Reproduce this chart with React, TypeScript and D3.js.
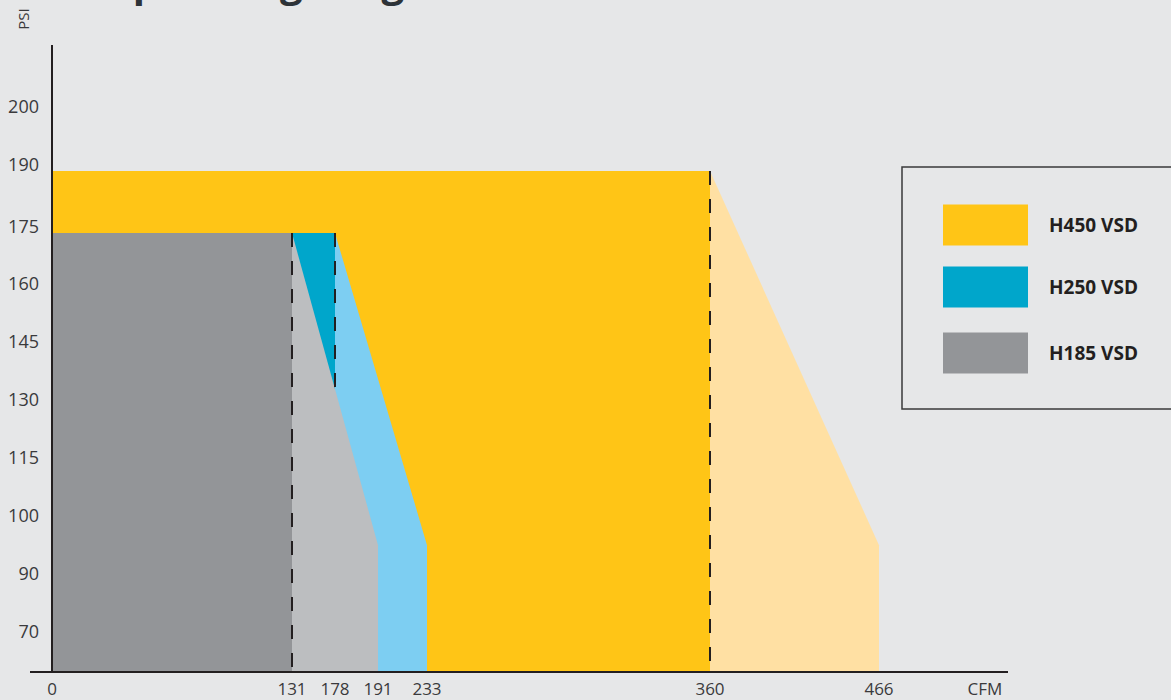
import React from "react";
import * as d3 from "d3";

// ---- data ----
const models = ["H450 VSD", "H250 VSD", "H185 VSD"];
const ratedFlow = [360, 178, 131]; // CFM at full pressure
const maxFlow = [466, 233, 191]; // CFM at lowest pressure
const maxPressure = [190, 175, 175]; // PSI
const lowPressure = [96, 96, 96]; // PSI where max flow is reached
const darkColors = ["#FFC516", "#00A6CB", "#939598"];
const lightColors = ["#FFE0A3", "#7DCEF2", "#BCBEC0"];

const xTicks = [0, 131, 178, 191, 233, 360, 466];
const yTicks = [70, 90, 100, 115, 130, 145, 160, 175, 190, 200];

const W = 1171;
const H = 700;
const axisX = 52;
const axisBottom = 672;

// piecewise scales (the original chart is not drawn to a linear scale)
const x = d3.scaleLinear().domain(xTicks).range([52, 292, 335, 378, 427, 710, 879]);
const y = d3
  .scaleLinear()
  .domain(yTicks)
  .range([638, 580, 522, 464, 406, 348, 290, 233, 171, 113]);

const font = "'Open Sans', 'Noto Sans', sans-serif";
const ink = "#231F20";
const labelInk = "#3A3A3C";

export default function App() {
  const line = d3.line<[number, number]>().x((d) => d[0]).y((d) => d[1]);

  const shapes: JSX.Element[] = [];
  models.forEach((m, i) => {
    const light: [number, number][] = [
      [x(ratedFlow[i]), y(maxPressure[i])],
      [x(maxFlow[i]), y(lowPressure[i])],
      [x(maxFlow[i]), axisBottom],
      [x(ratedFlow[i]), axisBottom],
    ];
    const dark: [number, number][] = [
      [x(0), y(maxPressure[i])],
      [x(ratedFlow[i]), y(maxPressure[i])],
      [x(ratedFlow[i]), axisBottom],
      [x(0), axisBottom],
    ];
    shapes.push(<path key={m + "l"} d={line(light) + "Z"} fill={lightColors[i]} />);
    shapes.push(<path key={m + "d"} d={line(dark) + "Z"} fill={darkColors[i]} />);
  });

  // dashed rated-flow lines
  const dashes: { x: number; y1: number; y2: number }[] = [];
  dashes.push({ x: x(ratedFlow[0]), y1: y(maxPressure[0]), y2: axisBottom });
  const sx0 = x(ratedFlow[2]);
  const sy0 = y(maxPressure[2]);
  const sx1 = x(maxFlow[2]);
  const sy1 = y(lowPressure[2]);
  const xr = x(ratedFlow[1]);
  const cross = sy0 + ((xr - sx0) / (sx1 - sx0)) * (sy1 - sy0);
  dashes.push({ x: xr, y1: y(maxPressure[1]), y2: cross });
  dashes.push({ x: x(ratedFlow[2]), y1: y(maxPressure[2]), y2: axisBottom });

  return (
    <svg
      width={W}
      height={H}
      style={{ position: "absolute", left: 0, top: 0, display: "block" }}
      fontFamily={font}
    >
      <rect x={0} y={0} width={W} height={H} fill="#E6E7E8" />
      <text x={101} y={-3} fontSize={40} fontWeight={700} fill="#2D3338">
        Operating range
      </text>
      <text
        transform="translate(29,19) rotate(-90)"
        fontSize={15}
        fill={labelInk}
        textAnchor="middle"
      >
        PSI
      </text>

      {shapes}

      {dashes.map((d, i) => (
        <line
          key={i}
          x1={d.x}
          x2={d.x}
          y1={d.y1}
          y2={d.y2}
          stroke={ink}
          strokeWidth={2}
          strokeDasharray="14 14"
        />
      ))}

      {/* axes */}
      <line x1={axisX} x2={axisX} y1={45} y2={axisBottom} stroke={ink} strokeWidth={2} />
      <line x1={30} x2={1008} y1={axisBottom} y2={axisBottom} stroke={ink} strokeWidth={2} />

      {yTicks.map((t) => (
        <text
          key={"y" + t}
          x={39}
          y={y(t) - 6}
          dy="0.35em"
          fontSize={18}
          fill={labelInk}
          textAnchor="end"
        >
          {t}
        </text>
      ))}
      {xTicks.map((t) => (
        <text key={"x" + t} x={x(t)} y={695} fontSize={17} fill={labelInk} textAnchor="middle">
          {t}
        </text>
      ))}
      <text x={985} y={695} fontSize={17} fill={labelInk} textAnchor="middle">
        CFM
      </text>

      {/* legend */}
      <rect x={902} y={167} width={300} height={242} fill="none" stroke="#3A3A3A" strokeWidth={1.5} />
      {models.map((m, i) => {
        const cy = [225, 287, 353][i];
        return (
          <g key={"lg" + m}>
            <rect x={943} y={cy - 20.5} width={85} height={41} fill={darkColors[i]} />
            <text x={1049} y={cy} dy="0.35em" fontSize={19} fontWeight={700} fill={ink}>
              {m}
            </text>
          </g>
        );
      })}
    </svg>
  );
}
